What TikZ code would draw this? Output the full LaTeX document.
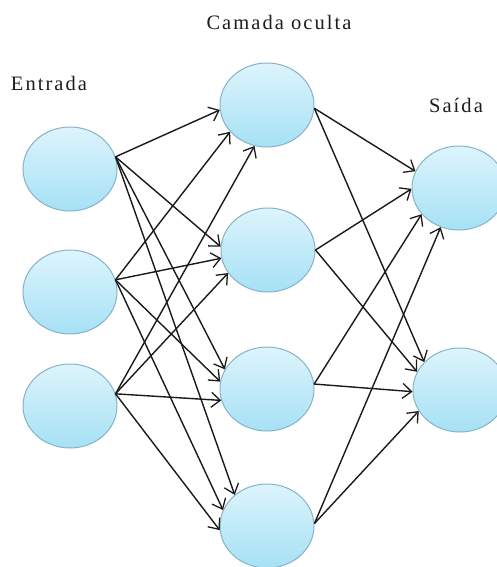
\documentclass[tikz,border=0pt]{standalone}
\usepackage{fontspec}
\setmainfont[LetterSpace=10]{Liberation Serif}
\usetikzlibrary{shapes.geometric,arrows.meta}
\definecolor{nodetop}{HTML}{DDF4FC}
\definecolor{nodebot}{HTML}{A6E1F5}
\definecolor{nodeedge}{HTML}{86B4C6}
\definecolor{linecol}{HTML}{1A1A1A}
\definecolor{txtcol}{HTML}{1C1C1C}
\tikzset{
  neuron/.style={ellipse, minimum width=94pt, minimum height=84pt, inner sep=0pt,
    top color=nodetop, bottom color=nodebot, draw=nodeedge, line width=1pt},
  link/.style={draw=linecol, line width=1.4pt, -{Straight Barb[length=9pt,width=15pt,line width=1.3pt]}},
  lab/.style={text=txtcol, font=\fontsize{20.5pt}{24pt}\selectfont, inner sep=0pt, anchor=base}
}
\begin{document}
\begin{tikzpicture}[x=1pt,y=-1pt]
\useasboundingbox (0,0) rectangle (497,567);
\clip (0,0) rectangle (497,567);
\fill[white] (0,0) rectangle (497,567);
% input layer
\node[neuron] (i1) at (70,169) {};
\node[neuron] (i2) at (70,292) {};
\node[neuron] (i3) at (70,406) {};
% hidden layer
\node[neuron] (h1) at (267,105) {};
\node[neuron] (h2) at (268,250) {};
\node[neuron] (h3) at (267,389) {};
\node[neuron] (h4) at (267,526) {};
% output layer
\node[neuron] (o1) at (459,188) {};
\node[neuron] (o2) at (460,390) {};
% labels
\node[lab] (tin) at (49,91) {Entrada};
\node[lab] (thid) at (279,30) {Camada oculta};
\node[lab] (tout) at (456,113) {Saída};
% input -> hidden
\foreach \h/\a/\b/\c in {h1/186/216/253, h2/176/190/210, h3/155/171/194, h4/136/160/185}{
  \draw[link] (i1.15) -- (\h.\a);
  \draw[link] (i2.15) -- (\h.\b);
  \draw[link] (i3.15) -- (\h.\c);
}
% hidden -> output
\foreach \h/\s/\a/\b in {h1/-4/159/142, h2/0/181/157, h3/6/215/182, h4/3/245/207}{
  \draw[link] (\h.\s) -- (o1.\a);
  \draw[link] (\h.\s) -- (o2.\b);
}
\end{tikzpicture}
\end{document}
